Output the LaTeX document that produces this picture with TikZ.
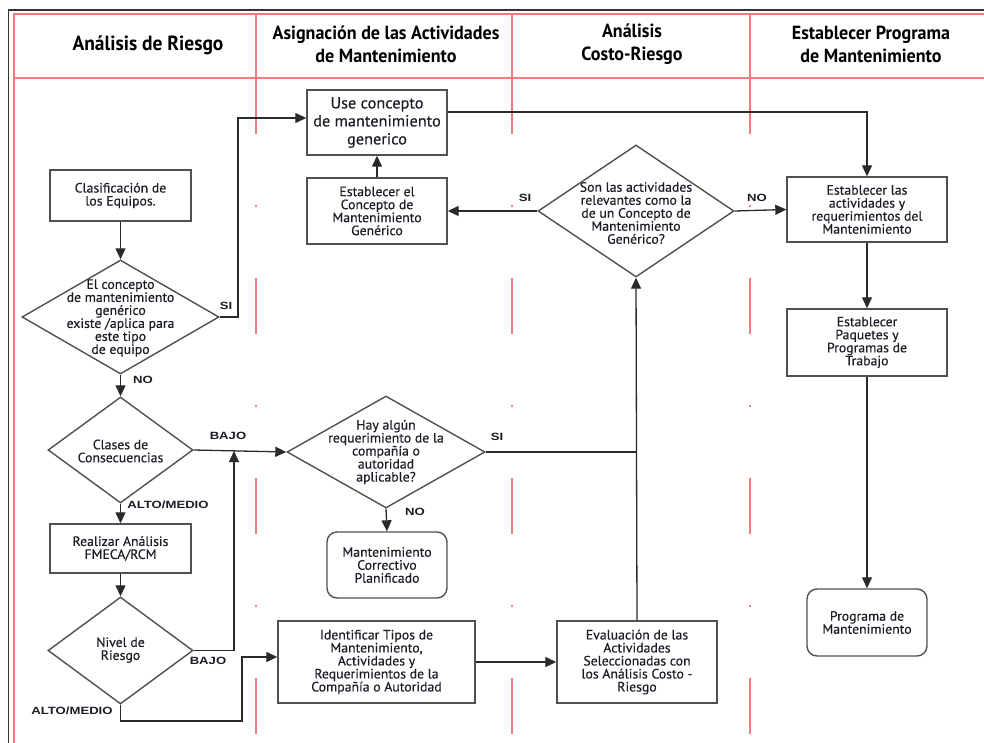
\documentclass[tikz,border=0pt]{standalone}
\usepackage{fontspec}
\setmainfont{PT Sans}[FakeStretch=0.95]
\newfontfamily\bodyfont{PT Sans}[FakeStretch=1.02,FakeBold=0.35]
\newfontfamily\tagfont{Liberation Sans}[FakeStretch=1.25]
\usetikzlibrary{shapes.geometric,arrows.meta,calc}

\definecolor{ink}{HTML}{1C1C28}
\definecolor{boxgray}{HTML}{505050}
\definecolor{wire}{HTML}{2A2A2A}
\definecolor{lane}{HTML}{F07C7C}

\begin{document}
\begin{tikzpicture}[x=1pt,y=-1pt,
  body/.style={font=\bodyfont\fontsize{13.5}{13}\selectfont, text=ink, align=center, inner sep=0pt},
  box/.style={draw=boxgray, line width=1.4pt, fill=white, inner sep=0pt, align=center,
    font=\bodyfont\fontsize{13.5}{13}\selectfont, text=ink},
  endbox/.style={box, rounded corners=10pt},
  dia/.style={draw=boxgray, line width=1.4pt, diamond, fill=white, inner sep=0pt},
  arr/.style={draw=wire, line width=1.3pt, -{Triangle[length=11pt,width=10pt]}},
  wireline/.style={draw=wire, line width=1.3pt},
  tag/.style={font=\tagfont\bfseries\fontsize{10.5}{10.5}\selectfont, text=ink, inner sep=0pt},
  head/.style={font=\bfseries\fontsize{19}{23}\selectfont, text=black, align=center, inner sep=0pt},
  laneline/.style={draw=lane, line width=1.5pt}
]
\useasboundingbox (0,0) rectangle (984,743);

% outer frame and header band
\draw[line width=1.5pt, draw=black!80] (8.5,760) -- (8.5,10) -- (1000,10);
\draw[laneline] (14,760) -- (14,14) -- (1000,14);
\draw[laneline] (14,78) -- (1000,78);
\foreach \lx in {256,512,750}{
  \draw[laneline] (\lx,14) -- (\lx,78);
  \draw[laneline, dash pattern=on 56pt off 71pt on 2pt off 71pt] (\lx,78) -- (\lx,760);
}

% column titles
\node[head, font=\bfseries\fontsize{20.5}{23}\selectfont] (h1) at (148,45) {Análisis de Riesgo};
\node[head] (h2) at (386,44) {Asignación de las Actividades\\de Mantenimiento};
\node[head] (h3) at (632,44) {Análisis\\Costo-Riesgo};
\node[head] (h4) at (871,44) {Establecer Programa\\de Mantenimiento};

% left column: risk analysis
\node[box, minimum width=141pt, minimum height=51pt] (clas) at (120.5,195.5) {Clasificación de\\los Equipos.};
\node[dia, minimum width=197pt, minimum height=114pt] (dgen) at (120.5,317) {};
\node[body] (dgent) at (120.5,318) {El concepto\\de mantenimiento\\genérico\\existe /aplica para\\este tipo\\de equipo};
\node[dia, minimum width=145pt, minimum height=106pt] (dcons) at (120.5,450) {};
\node[body] (dconst) at (120.5,451) {Clases de\\Consecuencias};
\node[box, minimum width=141pt, minimum height=49pt] (fmeca) at (120.5,548.5) {Realizar Análisis\\FMECA/RCM};
\node[dia, minimum width=145pt, minimum height=107pt] (dniv) at (120.5,650.5) {};
\node[body] (dnivt) at (120.5,650) {Nivel de\\Riesgo};

% second column: assignment of activities
\node[box, font=\bodyfont\fontsize{16}{18}\selectfont, minimum width=140pt, minimum height=65pt] (usegen) at (377,122.5) {Use concepto\\de mantenimiento\\generico};
\node[box, minimum width=140pt, minimum height=66pt] (estgen) at (377,211) {Establecer el\\Concepto de\\Mantenimiento\\Genérico};
\node[dia, minimum width=198pt, minimum height=112pt] (dreq) at (386,452) {};
\node[body] (dreqt) at (386,452) {Hay algún\\requerimiento de la\\compañía o\\autoridad\\aplicable?};
\node[endbox, minimum width=120pt, minimum height=66pt] (corr) at (387,565) {Mantenimiento\\Correctivo\\Planificado};
\node[box, minimum width=197pt, minimum height=82pt] (ident) at (376.5,662) {Identificar Tipos de\\Mantenimiento,\\Actividades y\\Requerimientos de la\\Compañía o Autoridad};

% third column: cost-risk analysis
\node[dia, minimum width=196pt, minimum height=132pt] (drel) at (636,211) {};
\node[body] (drelt) at (636,213) {Son las actividades\\relevantes como la\\de un Concepto de\\Mantenimiento\\Genérico?};
\node[box, minimum width=160pt, minimum height=82pt] (eval) at (637,662) {Evaluación de las\\Actividades\\Seleccionadas con\\los Análisis Costo -\\Riesgo};

% fourth column: maintenance programme
\node[box, minimum width=160pt, minimum height=65pt] (estact) at (867,209.5) {Establecer las\\actividades y\\requerimientos del\\Mantenimiento};
\node[box, minimum width=160pt, minimum height=67pt] (paq) at (867,342.5) {Establecer\\Paquetes y\\Programas de\\Trabajo};
\node[endbox, minimum width=120pt, minimum height=67pt] (prog) at (867,622.5) {Programa de\\Mantenimiento};

% junction points
\coordinate (jsi) at (238,118);
\coordinate (jbajo) at (234,451);
\coordinate (jalto) at (242,721);
\coordinate (jeval) at (637,452);

% connectors
\draw[arr] (clas) -- (dgen.north);
\draw[arr] (dgen.east) -| (jsi) -- ([yshift=4.5pt]usegen.west);
\draw[arr] (dgen.south) -- (dcons.north);
\draw[arr] (dcons.east) -- (dreq.west);
\draw[arr] (dcons.south) -- (fmeca.north);
\draw[arr] (fmeca.south) -- (dniv.north);
\draw[arr] (dniv.east) -| (jbajo);
\draw[arr] (dniv.south) |- (jalto) |- ([yshift=5pt]ident.west);
\draw[arr] (dreq.south) -- (corr.north);
\draw[wireline] (dreq.east) -- (jeval);
\draw[arr] (ident.east) -- (eval.west);
\draw[arr] (eval.north) -- (drel.south);
\draw[arr] (estgen.north) -- (usegen.south);
\draw[arr] (drel.west) -- (estgen.east);
\draw[arr] (drel.east) -- (estact.west);
\draw[arr] ([yshift=10.5pt]usegen.east) -| (estact.north);
\draw[arr] (estact.south) -- (paq.north);
\draw[arr] (paq.south) -- (prog.north);

% branch labels
\node[tag] (tsi1) at (226,306) {SI};
\node[tag] (tno1) at (143,380) {NO};
\node[tag] (tbajo1) at (228,436) {BAJO};
\node[tag] (talto1) at (168,505) {ALTO/MEDIO};
\node[tag] (tbajo2) at (208,661) {BAJO};
\node[tag] (talto2) at (72,711) {ALTO/MEDIO};
\node[tag] (tsi2) at (497,437) {SI};
\node[tag] (tno2) at (415,512) {NO};
\node[tag] (tsi3) at (525,198) {SI};
\node[tag] (tno3) at (757,198) {NO};
\end{tikzpicture}
\end{document}
